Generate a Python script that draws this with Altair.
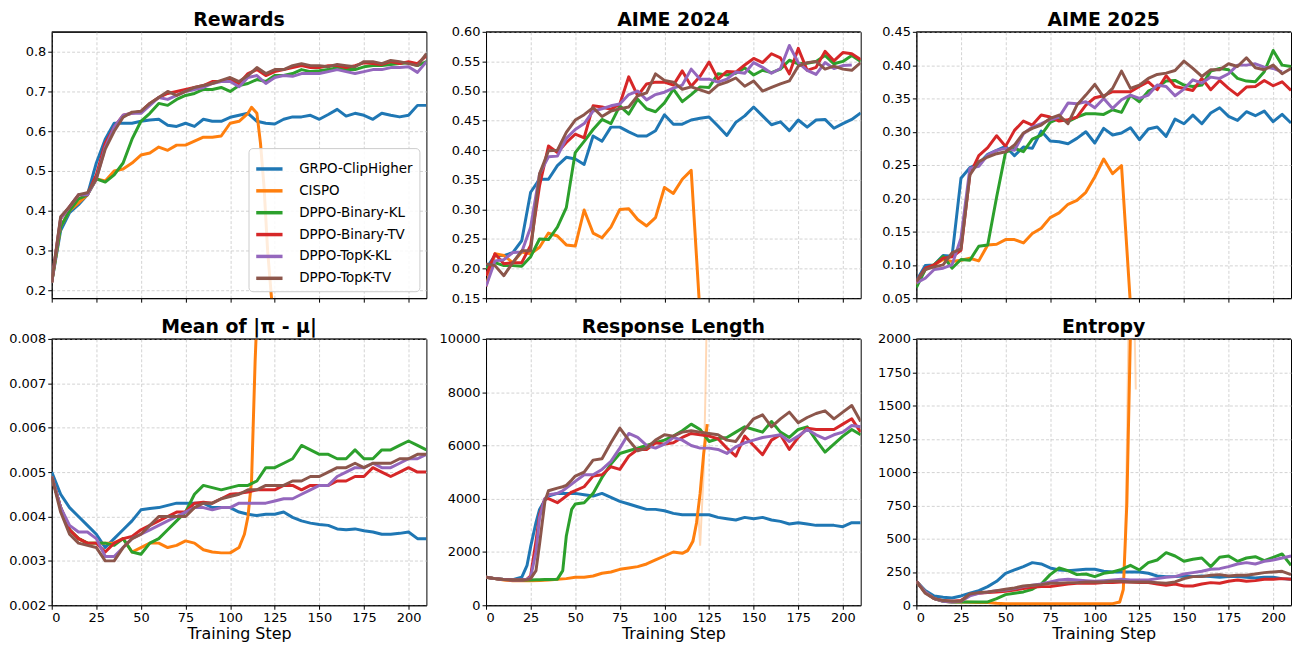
import altair as alt
import pandas as pd

SERIES = ["GRPO-ClipHigher", "CISPO", "DPPO-Binary-KL", "DPPO-Binary-TV", "DPPO-TopK-KL", "DPPO-TopK-TV"]
COLORS = ["#1f77b4", "#ff7f0e", "#2ca02c", "#d62728", "#9467bd", "#8c564b"]
XTICKS = [0, 25, 50, 75, 100, 125, 150, 175, 200]
STEPS = list(range(0, 215, 5))
FONT = "DejaVu Sans"
TITLES = ["Rewards", "AIME 2024", "AIME 2025", "Mean of |π - μ|", "Response Length", "Entropy"]

# ---------------- Rewards ----------------
REW_GRPO = [0.22, 0.35, 0.395, 0.415, 0.44, 0.52, 0.58, 0.62, 0.62, 0.62, 0.625, 0.628, 0.63, 0.615, 0.612,
            0.62, 0.612, 0.63, 0.625, 0.625, 0.635, 0.64, 0.645, 0.625, 0.62, 0.618, 0.63, 0.636, 0.636, 0.64,
            0.63, 0.642, 0.655, 0.638, 0.645, 0.64, 0.63, 0.645, 0.64, 0.636, 0.64, 0.665, 0.665]
REW_CISPO_STEPS = list(range(0, 115, 5)) + [112, 115, 117, 119, 121, 123, 125]
REW_CISPO = [0.22, 0.36, 0.40, 0.42, 0.44, 0.48, 0.475, 0.50, 0.505, 0.52, 0.54, 0.545, 0.56, 0.552, 0.565,
             0.565, 0.575, 0.585, 0.585, 0.588, 0.62, 0.625, 0.645,
             0.66, 0.645, 0.57, 0.46, 0.30, 0.19, 0.10]
REW_BKL = [0.22, 0.36, 0.40, 0.43, 0.44, 0.48, 0.472, 0.49, 0.52, 0.58, 0.625, 0.645, 0.67, 0.665, 0.68,
           0.69, 0.695, 0.705, 0.705, 0.71, 0.70, 0.715, 0.72, 0.73, 0.725, 0.74, 0.74, 0.745, 0.755, 0.75,
           0.752, 0.755, 0.76, 0.755, 0.755, 0.762, 0.765, 0.765, 0.768, 0.77, 0.772, 0.765, 0.775]
REW_BTV = [0.22, 0.38, 0.41, 0.44, 0.44, 0.49, 0.57, 0.61, 0.64, 0.645, 0.65, 0.67, 0.685, 0.695, 0.70,
           0.705, 0.71, 0.715, 0.725, 0.725, 0.73, 0.72, 0.745, 0.755, 0.74, 0.75, 0.755, 0.76, 0.765, 0.76,
           0.76, 0.765, 0.765, 0.76, 0.765, 0.772, 0.77, 0.768, 0.775, 0.77, 0.775, 0.77, 0.79]
REW_TKL = [0.22, 0.38, 0.41, 0.44, 0.44, 0.48, 0.56, 0.61, 0.64, 0.645, 0.645, 0.665, 0.685, 0.68, 0.69,
           0.70, 0.705, 0.71, 0.72, 0.725, 0.725, 0.712, 0.735, 0.74, 0.72, 0.735, 0.74, 0.738, 0.745, 0.745,
           0.745, 0.75, 0.755, 0.75, 0.745, 0.75, 0.755, 0.755, 0.76, 0.76, 0.762, 0.748, 0.775]
REW_TTV = [0.22, 0.385, 0.41, 0.44, 0.445, 0.48, 0.555, 0.60, 0.635, 0.648, 0.65, 0.67, 0.685, 0.70, 0.69,
           0.70, 0.71, 0.715, 0.72, 0.728, 0.735, 0.725, 0.74, 0.76, 0.745, 0.755, 0.755, 0.765, 0.77, 0.765,
           0.765, 0.762, 0.768, 0.765, 0.762, 0.775, 0.775, 0.77, 0.778, 0.775, 0.77, 0.765, 0.795]

# ---------------- AIME 2024 ----------------
A24_GRPO = [0.20, 0.222, 0.222, 0.227, 0.247, 0.329, 0.351, 0.351, 0.374, 0.388, 0.385, 0.376, 0.424, 0.415,
            0.439, 0.439, 0.431, 0.424, 0.424, 0.433, 0.460, 0.444, 0.444, 0.451, 0.454, 0.456, 0.441, 0.425,
            0.447, 0.458, 0.473, 0.458, 0.443, 0.448, 0.433, 0.451, 0.439, 0.451, 0.452, 0.437, 0.445, 0.452,
            0.463]
A24_CISPO = [0.17, 0.225, 0.222, 0.21, 0.228, 0.225, 0.236, 0.26, 0.255, 0.24, 0.238, 0.299, 0.26, 0.252,
             0.27, 0.30, 0.301, 0.283, 0.272, 0.286, 0.337, 0.327, 0.351, 0.366, 0.12] + [None] * 18
A24_BKL = [0.20, 0.21, 0.205, 0.205, 0.204, 0.22, 0.25, 0.249, 0.27, 0.303, 0.396, 0.415, 0.435, 0.452, 0.445,
           0.475, 0.461, 0.486, 0.47, 0.465, 0.48, 0.503, 0.482, 0.494, 0.507, 0.506, 0.529, 0.527, 0.53,
           0.539, 0.527, 0.535, 0.531, 0.537, 0.552, 0.546, 0.547, 0.55, 0.56, 0.546, 0.55, 0.56, 0.55]
A24_BTV = [0.188, 0.225, 0.208, 0.21, 0.21, 0.239, 0.34, 0.407, 0.396, 0.413, 0.427, 0.421, 0.475, 0.473,
           0.469, 0.478, 0.524, 0.492, 0.512, 0.515, 0.515, 0.51, 0.534, 0.508, 0.525, 0.549, 0.52, 0.533,
           0.532, 0.544, 0.555, 0.548, 0.563, 0.556, 0.529, 0.572, 0.535, 0.54, 0.567, 0.551, 0.565, 0.563,
           0.553]
A24_TKL = [0.17, 0.213, 0.215, 0.227, 0.228, 0.27, 0.36, 0.389, 0.39, 0.42, 0.435, 0.445, 0.466, 0.47, 0.475,
           0.478, 0.494, 0.50, 0.485, 0.494, 0.498, 0.505, 0.51, 0.537, 0.52, 0.52, 0.515, 0.52, 0.532, 0.53,
           0.548, 0.54, 0.53, 0.538, 0.577, 0.548, 0.535, 0.528, 0.548, 0.538, 0.543, 0.544, None]
A24_TTV = [0.208, 0.205, 0.188, 0.21, 0.23, 0.23, 0.36, 0.399, 0.40, 0.43, 0.451, 0.46, 0.472, 0.457, 0.466,
           0.47, 0.473, 0.492, 0.497, 0.529, 0.518, 0.515, 0.503, 0.507, 0.502, 0.497, 0.51, 0.515, 0.522,
           0.508, 0.517, 0.50, 0.506, 0.512, 0.517, 0.542, 0.548, 0.55, 0.537, 0.542, 0.537, 0.535, 0.548]

# ---------------- AIME 2025 ----------------
A25_GRPO = [0.076, 0.099, 0.10, 0.114, 0.113, 0.23, 0.246, 0.252, 0.266, 0.272, 0.278, 0.264, 0.277, 0.275,
            0.301, 0.286, 0.285, 0.282, 0.29, 0.30, 0.283, 0.305, 0.295, 0.298, 0.306, 0.288, 0.304, 0.307,
            0.293, 0.319, 0.312, 0.325, 0.312, 0.328, 0.336, 0.323, 0.317, 0.33, 0.324, 0.331, 0.315, 0.326,
            0.313]
A25_CISPO = [0.07, 0.093, 0.10, 0.108, 0.105, 0.107, 0.11, 0.106, 0.13, 0.131, 0.138, 0.138, 0.133, 0.147,
             0.155, 0.171, 0.178, 0.191, 0.197, 0.209, 0.232, 0.259, 0.237, 0.249, 0.04] + [None] * 18
A25_BKL = [0.066, 0.093, 0.10, 0.113, 0.095, 0.108, 0.107, 0.128, 0.13, 0.202, 0.269, 0.275, 0.27, 0.289,
           0.295, 0.314, 0.32, 0.315, 0.322, 0.327, 0.327, 0.326, 0.333, 0.329, 0.355, 0.345, 0.361, 0.367,
           0.376, 0.377, 0.37, 0.368, 0.37, 0.391, 0.395, 0.393, 0.38, 0.376, 0.375, 0.39, 0.422, 0.40, 0.398]
A25_BTV = [0.075, 0.095, 0.10, 0.11, 0.112, 0.122, 0.236, 0.264, 0.276, 0.294, 0.278, 0.302, 0.316, 0.31,
           0.325, 0.322, 0.316, 0.318, 0.322, 0.34, 0.351, 0.354, 0.36, 0.36, 0.36, 0.368, 0.375, 0.363, 0.384,
           0.368, 0.365, 0.362, 0.38, 0.363, 0.377, 0.365, 0.355, 0.367, 0.368, 0.377, 0.369, 0.375, 0.362]
A25_TKL = [0.073, 0.08, 0.093, 0.095, 0.10, 0.14, 0.245, 0.248, 0.265, 0.272, 0.275, 0.272, 0.297, 0.307,
           0.312, 0.318, 0.322, 0.343, 0.342, 0.345, 0.336, 0.35, 0.335, 0.348, 0.355, 0.35, 0.355, 0.37,
           0.368, 0.354, 0.364, 0.378, 0.373, 0.382, 0.38, 0.387, 0.40, 0.40, 0.402, 0.397, 0.395, 0.39, None]
A25_TTV = [0.075, 0.093, 0.097, 0.10, 0.118, 0.124, 0.235, 0.255, 0.262, 0.267, 0.27, 0.28, 0.298, 0.305,
           0.31, 0.32, 0.325, 0.312, 0.34, 0.355, 0.371, 0.352, 0.365, 0.391, 0.365, 0.37, 0.38, 0.386, 0.388,
           0.392, 0.406, 0.395, 0.383, 0.393, 0.393, 0.402, 0.398, 0.411, 0.396, 0.393, 0.40, 0.387, 0.395]

# ---------------- Mean of |pi - mu| ----------------
MEAN_GRPO = [0.0050, 0.0045, 0.0042, 0.0040, 0.0038, 0.0036, 0.0033, 0.0035, 0.0037, 0.0039, 0.00415,
             0.00418, 0.0042, 0.00425, 0.0043, 0.0043, 0.0043, 0.0043, 0.0042, 0.0042, 0.0042, 0.0041,
             0.00405, 0.00402, 0.00405, 0.00405, 0.0041, 0.00398, 0.0039, 0.00385, 0.00382, 0.0038, 0.00372,
             0.0037, 0.00372, 0.00368, 0.00365, 0.0036, 0.0036, 0.00362, 0.00365, 0.0035, 0.0035]
MEAN_CISPO_STEPS = list(range(0, 110, 5)) + [108, 110, 112, 114, 115, 116]
MEAN_CISPO = [0.0049, 0.0042, 0.0037, 0.0035, 0.0034, 0.0034, 0.0034, 0.0034, 0.0035, 0.0032, 0.0033,
              0.0034, 0.0034, 0.0033, 0.00335, 0.00345, 0.0034, 0.00325, 0.0032, 0.00318, 0.00318, 0.0033,
              0.0036, 0.0040, 0.0048, 0.0075, 0.0085, 0.0095]
MEAN_BKL = [0.0049, 0.0042, 0.0037, 0.0035, 0.0034, 0.0034, 0.0034, 0.00335, 0.0035, 0.0032, 0.00315,
            0.0034, 0.0035, 0.0037, 0.0039, 0.0041, 0.0045, 0.0047, 0.00465, 0.0046, 0.00465, 0.0047, 0.0047,
            0.0048, 0.0051, 0.0051, 0.0052, 0.0053, 0.0056, 0.0055, 0.0054, 0.0054, 0.0053, 0.0053, 0.0055,
            0.0053, 0.0053, 0.0055, 0.0055, 0.0056, 0.0057, 0.0056, 0.0055]
MEAN_BTV = [0.0049, 0.0042, 0.0037, 0.0035, 0.0034, 0.0034, 0.0032, 0.0034, 0.0035, 0.00355, 0.0037,
            0.0038, 0.0039, 0.0040, 0.0041, 0.0041, 0.0043, 0.00432, 0.0043, 0.0044, 0.0045, 0.00452,
            0.00455, 0.0046, 0.0046, 0.0046, 0.0047, 0.0047, 0.0046, 0.0047, 0.0047, 0.0047, 0.0048, 0.0048,
            0.0049, 0.0049, 0.0051, 0.0050, 0.0049, 0.0050, 0.0051, 0.0050, 0.0050]
MEAN_TKL = [0.0049, 0.0042, 0.0038, 0.00365, 0.00365, 0.0035, 0.0031, 0.0031, 0.0033, 0.0035, 0.0036,
            0.0037, 0.0038, 0.0039, 0.0040, 0.0041, 0.0042, 0.0042, 0.00415, 0.0042, 0.0042, 0.0043, 0.0043,
            0.0043, 0.0043, 0.00435, 0.0044, 0.0044, 0.0045, 0.0046, 0.0047, 0.0047, 0.0049, 0.0050, 0.0051,
            0.0051, 0.0052, 0.0051, 0.0051, 0.0052, 0.0053, 0.0053, 0.0054]
MEAN_TTV = [0.0049, 0.0041, 0.0036, 0.0034, 0.00335, 0.0033, 0.0030, 0.0030, 0.0033, 0.0035, 0.0036,
            0.0038, 0.0040, 0.0040, 0.0040, 0.0040, 0.0042, 0.0043, 0.0043, 0.0044, 0.00445, 0.0045, 0.0046,
            0.0046, 0.0047, 0.0047, 0.0047, 0.0048, 0.0048, 0.0049, 0.0049, 0.0050, 0.0051, 0.0051, 0.0052,
            0.0051, 0.0052, 0.0052, 0.0052, 0.0053, 0.0053, 0.0054, 0.0054]

# ---------------- Response Length ----------------
RESP_STEPS = [0, 5, 10, 15, 20, 23, 25, 28, 30, 33, 35, 40, 43, 45, 48, 50] + list(range(55, 215, 5))
RESP_GRPO = [1050, 1000, 970, 960, 1050, 1500, 2200, 3100, 3600, 3950, 4100, 4200, 4200, 4200, 4200, 4200,
             4150, 4100, 4200, 4050, 3900, 3800, 3700, 3600, 3600, 3550, 3450, 3400, 3400, 3400, 3400, 3300,
             3250, 3200, 3300, 3250, 3300, 3200, 3150, 3050, 3100, 3050, 3000, 3000, 3000, 2950, 3100, 3100]
RESP_CISPO_STEPS = list(range(0, 115, 5)) + [113, 116, 118, 120, 122, 124]
RESP_CISPO = [1050, 1000, 950, 920, 920, 920, 930, 950, 980, 1000, 1050, 1050, 1100, 1200, 1250, 1350, 1400,
              1450, 1550, 1700, 1850, 2000, 1950, 2050, 2400, 3100, 4200, 5700, 6800]
RESP_BKL = [1050, 1000, 970, 960, 950, 950, 950, 955, 960, 965, 970, 980, 1300, 2600, 3600, 3800,
            3850, 4200, 4800, 5300, 5700, 5800, 5900, 6000, 6100, 6200, 6350, 6550, 6800, 6600, 6150, 6250,
            6300, 6500, 6700, 6600, 6500, 6900, 6500, 6300, 6600, 6700, 6200, 5750, 6050, 6350, 6600, 6400]
RESP_BTV = [1050, 1000, 970, 950, 950, 980, 1100, 2400, 3400, 4000, 4000, 3850, 4000, 4100, 4250, 4300,
            4450, 4850, 4900, 5200, 5100, 5600, 5850, 5850, 6100, 6050, 6100, 6300, 6450, 6400, 6350, 6250,
            5900, 5600, 6350, 6000, 5650, 6200, 6400, 5850, 6300, 6650, 6600, 6600, 6600, 6800, 7000, 6500]
RESP_TKL = [1050, 1000, 970, 950, 950, 980, 1050, 2000, 3300, 4000, 4150, 4200, 4300, 4400, 4550, 4650,
            4900, 4900, 5100, 5400, 5900, 6450, 6300, 6000, 5900, 6050, 6300, 6200, 6000, 5900, 5900, 5850,
            5700, 5950, 6100, 6200, 6300, 6350, 6400, 6150, 6350, 6600, 6400, 6250, 6400, 6500, 6750, 6700]
RESP_TTV = [1050, 1000, 970, 950, 950, 960, 1000, 1300, 2300, 3900, 4300, 4400, 4450, 4500, 4700, 4850,
            5000, 5450, 5500, 6100, 6650, 6200, 5800, 5900, 6200, 6400, 6350, 6500, 6550, 6500, 6450, 6400,
            6200, 6150, 6600, 7000, 7150, 6700, 7000, 7250, 6850, 7050, 7200, 7300, 7000, 7250, 7500, 6900]
RESP_CISPO_RAW_STEPS = [110, 114, 117, 119, 120, 122, 123, 124]
RESP_CISPO_RAW = [1950, 2150, 2700, 3500, 2240, 5000, 8000, 12000]

# ---------------- Entropy ----------------
ENT_GRPO = [180, 110, 70, 60, 55, 70, 90, 110, 140, 180, 240, 265, 290, 320, 310, 280, 265, 260, 265, 270,
            270, 255, 250, 250, 250, 250, 240, 220, 215, 215, 220, 215, 220, 215, 210, 215, 215, 210, 205,
            210, 210, 200, 195]
ENT_CISPO_STEPS = list(range(0, 115, 5)) + [114, 116, 118, 120, 121]
ENT_CISPO = [180, 100, 50, 30, 25, 25, 22, 20, 20, 15, 12, 12, 12, 12, 12, 12, 12, 12, 12, 12, 12, 12, 12,
             25, 120, 770, 2050, 2600]
ENT_BKL = [180, 100, 50, 30, 25, 25, 25, 25, 25, 50, 80, 90, 100, 120, 160, 230, 280, 260, 230, 235, 215,
           240, 250, 270, 300, 265, 320, 340, 395, 370, 330, 345, 355, 290, 360, 370, 330, 355, 365, 335, 360,
           385, 300]
ENT_BTV = [180, 95, 50, 35, 30, 35, 80, 90, 95, 100, 105, 115, 125, 135, 140, 140, 150, 160, 165, 165, 165,
           170, 170, 175, 175, 170, 170, 160, 150, 160, 145, 145, 160, 170, 165, 180, 190, 180, 185, 195,
           195, 200, 195]
ENT_TKL = [180, 100, 50, 30, 25, 30, 70, 90, 100, 110, 115, 125, 140, 150, 160, 175, 190, 195, 190, 185,
           180, 185, 190, 195, 190, 190, 190, 200, 210, 215, 235, 245, 255, 270, 275, 290, 310, 320, 310,
           330, 340, 355, 370]
ENT_TTV = [180, 90, 50, 35, 30, 30, 85, 95, 100, 110, 120, 130, 145, 150, 155, 165, 165, 170, 170, 175,
           175, 175, 180, 180, 175, 175, 175, 170, 165, 175, 200, 215, 215, 225, 230, 220, 225, 225, 235,
           245, 250, 255, 230]
ENT_CISPO_RAW_STEPS = [110, 114, 116, 117, 118, 119, 120, 121, 122, 123]
ENT_CISPO_RAW = [12, 20, 100, 400, 1200, 2200, 2600, 2500, 2300, 1620]

PLOT_W = 377
PLOT_H = 268


def frame(series_list):
    rows = []
    for name, steps, vals in series_list:
        assert len(steps) == len(vals), (name, len(steps), len(vals))
        for s, v in zip(steps, vals):
            if v is not None:
                rows.append({"step": s, "value": v, "series": name})
    return pd.DataFrame(rows)


def six(vals_list, cispo_steps=None, steps=STEPS):
    out = []
    for name, vals in zip(SERIES, vals_list):
        st = cispo_steps if (name == "CISPO" and cispo_steps is not None) else steps
        out.append((name, st, vals))
    return frame(out)


def panel(df, title, dom, ticks, fmt, bottom, yext, legend=False, raw=None):
    if bottom:
        x = alt.X("step:Q", title="Training Step",
                  scale=alt.Scale(domain=[0, 210], nice=False, zero=False),
                  axis=alt.Axis(values=XTICKS, labels=True, minExtent=19, maxExtent=19,
                                titleFontSize=16, titleFontWeight="normal", titlePadding=1))
    else:
        x = alt.X("step:Q", title=None,
                  scale=alt.Scale(domain=[0, 210], nice=False, zero=False),
                  axis=alt.Axis(values=XTICKS, labels=False, minExtent=4, maxExtent=4))
    y = alt.Y("value:Q", title=None,
              scale=alt.Scale(domain=dom, nice=False, zero=False),
              axis=alt.Axis(values=ticks, format=fmt, minExtent=yext, maxExtent=yext))
    cscale = alt.Scale(domain=SERIES, range=COLORS)
    if legend:
        leg = alt.Legend(title=None, orient="bottom-right", offset=7, padding=6,
                         strokeColor="#cccccc", fillColor="rgba(255,255,255,0.85)", cornerRadius=4,
                         labelFontSize=13.5, labelFont=FONT, labelColor="#000000",
                         symbolType="stroke", symbolStrokeWidth=3.5, symbolSize=700,
                         rowPadding=-4, labelOffset=15)
        color = alt.Color("series:N", scale=cscale, sort=SERIES, legend=leg)
    else:
        color = alt.Color("series:N", scale=cscale, sort=SERIES, legend=None)
    lines = alt.Chart(df).mark_line(strokeWidth=3, clip=True, strokeJoin="round").encode(
        x=x, y=y, color=color)
    layers = []
    if raw is not None:
        rawc = alt.Chart(raw).mark_line(strokeWidth=2, opacity=0.3, clip=True).encode(
            x=x, y=y, color=alt.Color("series:N", scale=cscale, sort=SERIES, legend=None))
        layers.append(rawc)
    layers.append(lines)
    tdf = pd.DataFrame({"t": [title]})
    top_edge = alt.Chart(tdf).mark_rule(color="#000000", strokeWidth=1).encode(
        x=alt.value(0), x2=alt.value(PLOT_W), y=alt.value(0))
    ttl = alt.Chart(tdf).mark_text(
        fontSize=19, fontWeight="bold", font=FONT, color="#000000",
        align="center", baseline="alphabetic").encode(
        text="t:N", x=alt.value(PLOT_W / 2), y=alt.value(-6))
    layers.append(top_edge)
    layers.append(ttl)
    return alt.layer(*layers).properties(width=PLOT_W, height=PLOT_H)


rew_df = six([REW_GRPO, REW_CISPO, REW_BKL, REW_BTV, REW_TKL, REW_TTV], REW_CISPO_STEPS)
a24_df = six([A24_GRPO, A24_CISPO, A24_BKL, A24_BTV, A24_TKL, A24_TTV])
a25_df = six([A25_GRPO, A25_CISPO, A25_BKL, A25_BTV, A25_TKL, A25_TTV])
mean_df = six([MEAN_GRPO, MEAN_CISPO, MEAN_BKL, MEAN_BTV, MEAN_TKL, MEAN_TTV], MEAN_CISPO_STEPS)
resp_df = six([RESP_GRPO, RESP_CISPO, RESP_BKL, RESP_BTV, RESP_TKL, RESP_TTV], RESP_CISPO_STEPS, RESP_STEPS)
ent_df = six([ENT_GRPO, ENT_CISPO, ENT_BKL, ENT_BTV, ENT_TKL, ENT_TTV], ENT_CISPO_STEPS)
resp_raw = frame([("CISPO", RESP_CISPO_RAW_STEPS, RESP_CISPO_RAW)])
ent_raw = frame([("CISPO", ENT_CISPO_RAW_STEPS, ENT_CISPO_RAW)])

p1 = panel(rew_df, TITLES[0], [0.18, 0.85], [0.2, 0.3, 0.4, 0.5, 0.6, 0.7, 0.8], ".1f", False, 43, legend=True)
p2 = panel(a24_df, TITLES[1], [0.15, 0.60], [0.15, 0.2, 0.25, 0.3, 0.35, 0.4, 0.45, 0.5, 0.55, 0.6], ".2f", False, 44)
p3 = panel(a25_df, TITLES[2], [0.05, 0.45], [0.05, 0.1, 0.15, 0.2, 0.25, 0.3, 0.35, 0.4, 0.45], ".2f", False, 43)
p4 = panel(mean_df, TITLES[3], [0.002, 0.008], [0.002, 0.003, 0.004, 0.005, 0.006, 0.007, 0.008], ".3f", True, 43)
p5 = panel(resp_df, TITLES[4], [0, 10000], [0, 2000, 4000, 6000, 8000, 10000], "d", True, 44, raw=resp_raw)
p6 = panel(ent_df, TITLES[5], [0, 2000], [0, 250, 500, 750, 1000, 1250, 1500, 1750, 2000], "d", True, 43, raw=ent_raw)

chart = alt.concat(p1, p2, p3, p4, p5, p6, columns=3, spacing=11).resolve_scale(
    color="independent").resolve_legend(color="independent").properties(
    padding={"left": 0, "top": 0, "right": 2, "bottom": 0}
).configure_view(
    stroke="#000000", strokeWidth=1
).configure_axis(
    labelFont=FONT, titleFont=FONT, labelFontSize=13, labelColor="#000000", titleColor="#000000",
    domainColor="#000000", domainWidth=1, tickColor="#000000", tickSize=4, tickWidth=1,
    labelPadding=2, gridColor="#c8c8c8", gridDash=[3, 2], gridWidth=0.8, grid=True
)

chart.save("out.html", embed_options={"renderer": "svg", "actions": False})
